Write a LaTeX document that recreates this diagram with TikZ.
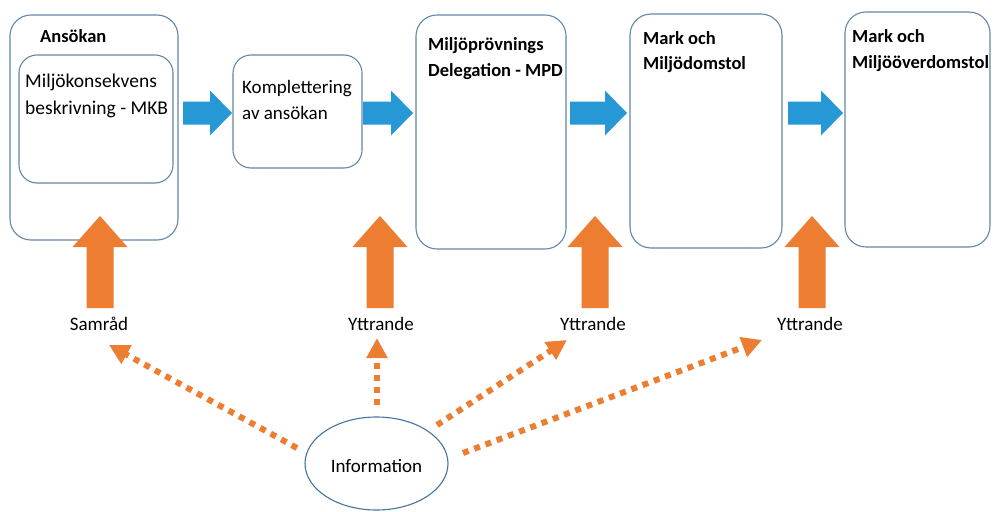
\documentclass[tikz,border=0pt]{standalone}
\usepackage{fontspec}
\setmainfont{Carlito}
\usetikzlibrary{arrows.meta,shapes.geometric}
\definecolor{boxline}{RGB}{100,135,170}
\definecolor{ellline}{RGB}{70,115,160}
\definecolor{bluearrow}{RGB}{38,152,214}
\definecolor{orangearrow}{RGB}{237,125,49}
\begin{document}
\begin{tikzpicture}[x=1pt,y=-1pt,
  box/.style={draw=boxline, line width=1.1pt, rounded corners=21pt, fill=white, inner sep=0pt},
  txt/.style={font=\fontsize{19}{26}\selectfont, inner sep=0pt, anchor=base west, align=left},
  btxt/.style={font=\fontsize{18.5}{25}\selectfont\bfseries, inner sep=0pt, anchor=base west, align=left},
  lbl/.style={font=\fontsize{19}{23}\selectfont, inner sep=0pt, anchor=base},
  bluearr/.style={fill=bluearrow},
  orangearr/.style={fill=orangearrow},
  dotarrow/.style={draw=orangearrow, line width=6pt, dash pattern=on 6pt off 6pt,
    -{Triangle[width=20pt,length=20pt]}}]
\useasboundingbox (0,0) rectangle (995,511);
\fill[white] (0,0) rectangle (995,511);

% boxes
\node[box, minimum width=168pt, minimum height=225pt] (ans) at (94,127.5) {};
\node[box, rounded corners=18pt, minimum width=154pt, minimum height=128pt] (mkb) at (96,119) {};
\node[box, rounded corners=18pt, minimum width=129pt, minimum height=113pt] (komp) at (297.5,111.5) {};
\node[box, minimum width=150pt, minimum height=234pt] (mpd) at (491,132) {};
\node[box, minimum width=152pt, minimum height=234pt] (mod) at (706,131) {};
\node[box, minimum width=145pt, minimum height=235pt] (mood) at (917.5,129.5) {};

% texts (base anchor = baseline of last line)
\node[btxt] (t1) at (40,43) {Ansökan};
\node[txt, font=\fontsize{19.5}{27}\selectfont] (t2) at (25,114) {Miljökonsekvens\\beskrivning - MKB};
\node[txt] (t3) at (242,119) {Komplettering\\av ansökan};
\node[btxt] (t4) at (428,76) {Miljöprövnings\\Delegation - MPD};
\node[btxt] (t5) at (643,70) {Mark och\\Miljödomstol};
\node[btxt] (t6) at (852,68) {Mark och\\Miljööverdomstol};

% blue block arrows
\foreach \a/\b in {183/232, 363/413, 570/627, 788/843} {
  \fill[bluearr] (\a,101.5) -- (\b-22,101.5) -- (\b-22,90.5) -- (\b,113)
    -- (\b-22,135.5) -- (\b-22,124.5) -- (\a,124.5) -- cycle;
}

% orange block arrows
\foreach \c in {100,380,595,812} {
  \fill[orangearr] (\c-13.5,308) -- (\c-13.5,247) -- (\c-27.5,247) -- (\c,216)
    -- (\c+27.5,247) -- (\c+13.5,247) -- (\c+13.5,308) -- cycle;
}

% labels
\node[lbl] (samrad) at (99,330) {Samråd};
\node[lbl] (ytt1) at (381,330) {Yttrande};
\node[lbl] (ytt2) at (593,330) {Yttrande};
\node[lbl] (ytt3) at (810,330) {Yttrande};

% information ellipse
\node[draw=ellline, line width=1.1pt, ellipse, minimum width=143pt, minimum height=93pt,
  inner sep=0pt] (info) at (376.5,463.5) {};
\node[lbl] (infotxt) at (376.5,472) {Information};

% dotted arrows
\coordinate (s1) at (297,448);
\coordinate (e1) at (109,345);
\coordinate (s2) at (377,405);
\coordinate (e2) at (377,338);
\coordinate (s3) at (437,425);
\coordinate (e3) at (567,340);
\coordinate (s4) at (463,453);
\coordinate (e4) at (762,340);
\draw[dotarrow] (s1) -- (e1);
\draw[dotarrow] (s2) -- (e2);
\draw[dotarrow] (s3) -- (e3);
\draw[dotarrow] (s4) -- (e4);
\end{tikzpicture}
\end{document}
